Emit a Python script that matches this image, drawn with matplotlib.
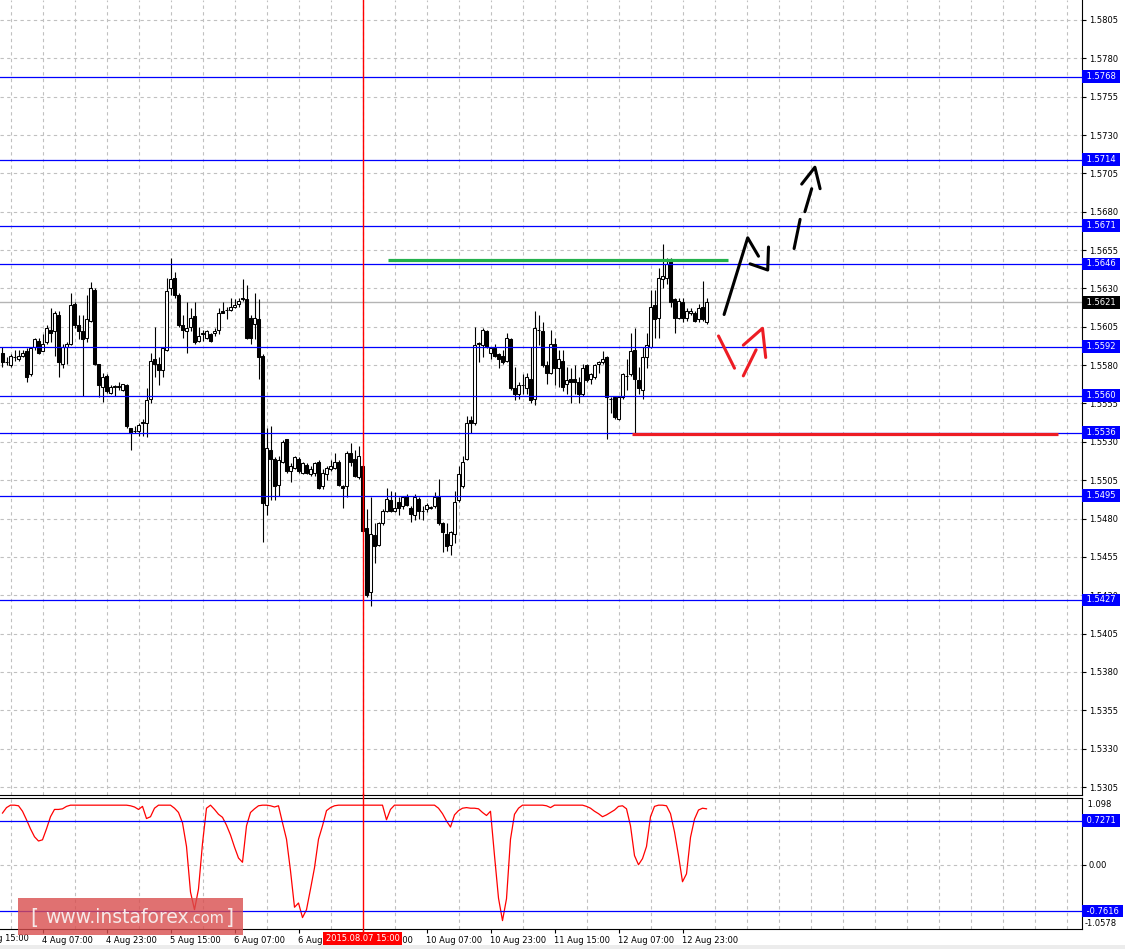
import numpy as np
import matplotlib.pyplot as plt
from matplotlib.transforms import offset_copy, blended_transform_factory
from matplotlib.patches import Rectangle

# GBPUSD H1, 3 Aug - 12 Aug 2015
opens = [1.5588, 1.5582, 1.5580, 1.5585, 1.5584, 1.5586, 1.5589, 1.5574, 1.5592, 1.5596,
         1.5589, 1.5595, 1.5603, 1.5602, 1.5613, 1.5581, 1.5592, 1.5594, 1.5620, 1.5606,
         1.5602, 1.5598, 1.5609, 1.5629, 1.5581, 1.5566, 1.5573, 1.5562, 1.5566, 1.5566,
         1.5564, 1.5567, 1.5539, 1.5537, 1.5537, 1.5542, 1.5542, 1.5558, 1.5584, 1.5581,
         1.5577, 1.5590, 1.5630, 1.5637, 1.5626, 1.5606, 1.5602, 1.5605, 1.5612, 1.5596,
         1.5600, 1.5598, 1.5600, 1.5601, 1.5603, 1.5615, 1.5616, 1.5616, 1.5618, 1.5620,
         1.5624, 1.5623, 1.5611, 1.5607, 1.5610, 1.5586, 1.5489, 1.5525, 1.5519, 1.5502,
         1.5517, 1.5532, 1.5511, 1.5513, 1.5519, 1.5510, 1.5515, 1.5509, 1.5510, 1.5517,
         1.5501, 1.5509, 1.5512, 1.5513, 1.5517, 1.5501, 1.5501, 1.5523, 1.5519, 1.5507,
         1.5514, 1.5474, 1.5432, 1.5469, 1.5463, 1.5477, 1.5485, 1.5492, 1.5485, 1.5491,
         1.5488, 1.5495, 1.5487, 1.5482, 1.5493, 1.5485, 1.5486, 1.5487, 1.5488, 1.5494,
         1.5477, 1.5470, 1.5463, 1.5470, 1.5492, 1.5501, 1.5519, 1.5544, 1.5542, 1.5594,
         1.5593, 1.5602, 1.5588, 1.5591, 1.5587, 1.5586, 1.5583, 1.5597, 1.5565, 1.5561,
         1.5567, 1.5565, 1.5571, 1.5558, 1.5603, 1.5602, 1.5580, 1.5575, 1.5594, 1.5578,
         1.5583, 1.5568, 1.5571, 1.5571, 1.5569, 1.5561, 1.5580, 1.5571, 1.5572, 1.5581,
         1.5582, 1.5585, 1.5558, 1.5559, 1.5545, 1.5559, 1.5573, 1.5574, 1.5590, 1.5570,
         1.5564, 1.5585, 1.5592, 1.5619, 1.5611, 1.5636, 1.5637, 1.5649, 1.5623, 1.5611,
         1.5621, 1.5611, 1.5614, 1.5614, 1.5610, 1.5618, 1.5608]
highs = [1.5592, 1.5585, 1.5587, 1.5590, 1.5590, 1.5590, 1.5591, 1.5592, 1.5598, 1.5598,
         1.5600, 1.5606, 1.5617, 1.5615, 1.5615, 1.5594, 1.5595, 1.5627, 1.5621, 1.5613,
         1.5613, 1.5626, 1.5634, 1.5630, 1.5581, 1.5575, 1.5574, 1.5567, 1.5567, 1.5569,
         1.5568, 1.5568, 1.5539, 1.5540, 1.5542, 1.5545, 1.5565, 1.5588, 1.5605, 1.5585,
         1.5591, 1.5637, 1.5650, 1.5641, 1.5627, 1.5613, 1.5621, 1.5617, 1.5621, 1.5605,
         1.5603, 1.5603, 1.5601, 1.5604, 1.5617, 1.5621, 1.5618, 1.5624, 1.5623, 1.5624,
         1.5636, 1.5632, 1.5613, 1.5627, 1.5623, 1.5587, 1.5539, 1.5540, 1.5520, 1.5521,
         1.5531, 1.5532, 1.5516, 1.5521, 1.5520, 1.5517, 1.5516, 1.5514, 1.5517, 1.5518,
         1.5512, 1.5514, 1.5518, 1.5523, 1.5518, 1.5502, 1.5524, 1.5529, 1.5525, 1.5527,
         1.5515, 1.5486, 1.5494, 1.5477, 1.5478, 1.5486, 1.5500, 1.5498, 1.5497, 1.5494,
         1.5495, 1.5496, 1.5488, 1.5496, 1.5494, 1.5488, 1.5490, 1.5488, 1.5497, 1.5506,
         1.5478, 1.5477, 1.5472, 1.5498, 1.5514, 1.5521, 1.5547, 1.5547, 1.5605, 1.5595,
         1.5604, 1.5603, 1.5592, 1.5594, 1.5588, 1.5590, 1.5601, 1.5598, 1.5579, 1.5569,
         1.5574, 1.5575, 1.5592, 1.5615, 1.5613, 1.5608, 1.5583, 1.5603, 1.5598, 1.5590,
         1.5590, 1.5579, 1.5578, 1.5580, 1.5572, 1.5581, 1.5581, 1.5575, 1.5581, 1.5583,
         1.5589, 1.5586, 1.5559, 1.5560, 1.5560, 1.5575, 1.5584, 1.5601, 1.5604, 1.5579,
         1.5592, 1.5601, 1.5629, 1.5629, 1.5643, 1.5659, 1.5650, 1.5650, 1.5624, 1.5624,
         1.5624, 1.5617, 1.5617, 1.5615, 1.5620, 1.5635, 1.5624]
lows = [1.5579, 1.5580, 1.5579, 1.5583, 1.5583, 1.5585, 1.5569, 1.5573, 1.5590, 1.5587,
        1.5589, 1.5594, 1.5595, 1.5586, 1.5572, 1.5578, 1.5581, 1.5593, 1.5604, 1.5597,
        1.5560, 1.5595, 1.5608, 1.5580, 1.5559, 1.5556, 1.5562, 1.5561, 1.5560, 1.5564,
        1.5563, 1.5539, 1.5525, 1.5536, 1.5534, 1.5534, 1.5533, 1.5555, 1.5572, 1.5567,
        1.5572, 1.5589, 1.5626, 1.5624, 1.5605, 1.5598, 1.5588, 1.5602, 1.5594, 1.5595,
        1.5596, 1.5597, 1.5595, 1.5599, 1.5600, 1.5614, 1.5610, 1.5615, 1.5617, 1.5618,
        1.5622, 1.5597, 1.5594, 1.5597, 1.5571, 1.5465, 1.5482, 1.5492, 1.5492, 1.5495,
        1.5516, 1.5510, 1.5504, 1.5512, 1.5510, 1.5509, 1.5509, 1.5508, 1.5508, 1.5499,
        1.5499, 1.5505, 1.5511, 1.5512, 1.5501, 1.5487, 1.5494, 1.5514, 1.5507, 1.5506,
        1.5471, 1.5429, 1.5423, 1.5451, 1.5462, 1.5476, 1.5484, 1.5484, 1.5484, 1.5482,
        1.5486, 1.5488, 1.5478, 1.5479, 1.5480, 1.5479, 1.5484, 1.5486, 1.5487, 1.5476,
        1.5458, 1.5459, 1.5456, 1.5464, 1.5491, 1.5500, 1.5518, 1.5536, 1.5541, 1.5582,
        1.5585, 1.5591, 1.5584, 1.5585, 1.5578, 1.5581, 1.5582, 1.5564, 1.5557, 1.5558,
        1.5561, 1.5561, 1.5555, 1.5554, 1.5593, 1.5579, 1.5568, 1.5574, 1.5567, 1.5566,
        1.5563, 1.5561, 1.5555, 1.5561, 1.5555, 1.5560, 1.5569, 1.5568, 1.5571, 1.5575,
        1.5581, 1.5532, 1.5549, 1.5545, 1.5544, 1.5558, 1.5564, 1.5573, 1.5536, 1.5561,
        1.5558, 1.5578, 1.5591, 1.5598, 1.5598, 1.5630, 1.5633, 1.5618, 1.5601, 1.5610,
        1.5608, 1.5609, 1.5613, 1.5608, 1.5608, 1.5609, 1.5607]
closes = [1.5582, 1.5582, 1.5586, 1.5585, 1.5586, 1.5588, 1.5572, 1.5591, 1.5597, 1.5588,
          1.5594, 1.5604, 1.5601, 1.5614, 1.5582, 1.5592, 1.5594, 1.5619, 1.5606, 1.5602,
          1.5597, 1.5610, 1.5630, 1.5581, 1.5567, 1.5572, 1.5563, 1.5566, 1.5566, 1.5566,
          1.5568, 1.5540, 1.5536, 1.5537, 1.5541, 1.5543, 1.5557, 1.5583, 1.5581, 1.5577,
          1.5591, 1.5628, 1.5636, 1.5626, 1.5606, 1.5603, 1.5604, 1.5611, 1.5595, 1.5599,
          1.5601, 1.5602, 1.5596, 1.5602, 1.5614, 1.5614, 1.5616, 1.5618, 1.5619, 1.5622,
          1.5623, 1.5598, 1.5598, 1.5611, 1.5585, 1.5490, 1.5526, 1.5519, 1.5501, 1.5518,
          1.5530, 1.5511, 1.5514, 1.5520, 1.5511, 1.5516, 1.5510, 1.5512, 1.5516, 1.5500,
          1.5510, 1.5513, 1.5514, 1.5517, 1.5502, 1.5500, 1.5523, 1.5517, 1.5508, 1.5521,
          1.5472, 1.5430, 1.5470, 1.5462, 1.5477, 1.5485, 1.5493, 1.5485, 1.5487, 1.5487,
          1.5494, 1.5489, 1.5483, 1.5494, 1.5485, 1.5485, 1.5489, 1.5487, 1.5494, 1.5477,
          1.5471, 1.5462, 1.5471, 1.5491, 1.5509, 1.5517, 1.5542, 1.5542, 1.5593, 1.5594,
          1.5603, 1.5592, 1.5591, 1.5586, 1.5584, 1.5582, 1.5598, 1.5565, 1.5561, 1.5567,
          1.5567, 1.5572, 1.5557, 1.5604, 1.5603, 1.5580, 1.5575, 1.5594, 1.5578, 1.5584,
          1.5566, 1.5570, 1.5569, 1.5569, 1.5561, 1.5578, 1.5570, 1.5574, 1.5580, 1.5582,
          1.5584, 1.5559, 1.5558, 1.5546, 1.5559, 1.5574, 1.5573, 1.5589, 1.5571, 1.5565,
          1.5585, 1.5593, 1.5618, 1.5610, 1.5637, 1.5638, 1.5646, 1.5621, 1.5611, 1.5622,
          1.5611, 1.5615, 1.5615, 1.5609, 1.5617, 1.5610, 1.5621]

# oscillator in the lower window
osc = [0.85, 0.94, 0.98, 0.98, 0.97, 0.88, 0.74, 0.59, 0.46, 0.39,
       0.41, 0.59, 0.79, 0.91, 0.91, 0.92, 0.96, 0.98, 0.98, 0.98,
       0.98, 0.98, 0.98, 0.98, 0.98, 0.98, 0.98, 0.98, 0.98, 0.98,
       0.98, 0.98, 0.97, 0.95, 0.91, 0.96, 0.76, 0.79, 0.93, 0.98,
       0.98, 0.98, 0.98, 0.93, 0.86, 0.69, 0.30, -0.45, -0.74, -0.40,
       0.35, 0.93, 0.98, 0.91, 0.83, 0.78, 0.65, 0.49, 0.29, 0.11,
       0.04, 0.64, 0.86, 0.92, 0.97, 0.98, 0.98, 0.97, 0.95, 0.97,
       0.69, 0.42, -0.10, -0.70, -0.63, -0.87, -0.74, -0.40, -0.05, 0.42,
       0.64, 0.89, 0.94, 0.97, 0.98, 0.98, 0.98, 0.98, 0.98, 0.98,
       0.98, 0.98, 0.98, 0.98, 0.98, 0.98, 0.74, 0.91, 0.98, 0.98,
       0.98, 0.98, 0.98, 0.98, 0.98, 0.98, 0.98, 0.98, 0.98, 0.93,
       0.84, 0.72, 0.62, 0.82, 0.89, 0.93, 0.94, 0.93, 0.93, 0.92,
       0.86, 0.81, 0.88, 0.15, -0.55, -0.92, -0.56, 0.42, 0.83, 0.93,
       0.98, 0.98, 0.98, 0.98, 0.98, 0.98, 0.97, 0.94, 0.98, 0.98,
       0.98, 0.98, 0.98, 0.98, 0.98, 0.98, 0.96, 0.93, 0.88, 0.84,
       0.79, 0.82, 0.86, 0.90, 0.96, 0.97, 0.92, 0.64, 0.15, 0.00,
       0.10, 0.30, 0.79, 0.96, 0.98, 0.98, 0.97, 0.84, 0.54, 0.15,
       -0.28, -0.15, 0.45, 0.75, 0.90, 0.93, 0.92]

levels = [1.5768, 1.5714, 1.5671, 1.5646, 1.5592, 1.5560, 1.5536, 1.5495, 1.5427]
bid = 1.5621
osc_levels = [0.7271, -0.7616]
osc_max, osc_min = 1.098, -1.0578

# trend lines drawn on the chart: (bar from, bar to, price)
green_seg = (96.4, 181.4, 1.56486)
red_seg = (157.4, 263.9, 1.5535)
# hand drawn strokes, (bar, price) points
black_strokes = [[(180.4, 1.5613), (186.3, 1.5663), (189.0, 1.5651)],
                 [(186.9, 1.5646), (191.3, 1.5642), (191.5, 1.5657)],
                 [(197.9, 1.5656), (199.4, 1.5675)],
                 [(200.6, 1.5680), (202.3, 1.5695)],
                 [(199.8, 1.5698), (203.1, 1.5709), (204.4, 1.5695)]]
red_strokes = [[(179.0, 1.5599), (183.0, 1.5578)],
               [(185.2, 1.5573), (188.4, 1.5590)],
               [(185.2, 1.5593), (190.0, 1.5604), (190.8, 1.5585)]]

cursor_bar = 90
cursor_text = "2015.08.07 15:00"
time_ticks = [-6, 10, 26, 42, 58, 74, 90, 106, 122, 138, 154, 170]
time_labels = ["3 Aug 15:00", "4 Aug 07:00", "4 Aug 23:00", "5 Aug 15:00", "6 Aug 07:00",
               "6 Aug 23:00", "7 Aug 15:00", "10 Aug 07:00", "10 Aug 23:00", "11 Aug 15:00",
               "12 Aug 07:00", "12 Aug 23:00"]

W, H = 1125, 949
fig = plt.figure(figsize=(W / 100, H / 100), dpi=100)
ax = fig.add_axes([0, 154 / H, 1082 / W, 795 / H])
ax2 = fig.add_axes([0, 20 / H, 1082 / W, 131 / H])
xlim = (-0.625, 269.875)
fs = 6
grid_c = '#c0c0c0'

# ---- candles
o, hi, lo, c = map(np.array, (opens, highs, lows, closes))
x = np.arange(len(o))
up = c >= o
body = np.maximum(np.abs(c - o), 0.00002)
bot = np.minimum(o, c)
ax.vlines(x, lo, hi, color='black', lw=0.8, zorder=3)
ax.bar(x[up], body[up], bottom=bot[up], width=0.6, facecolor='white',
       edgecolor='black', lw=0.75, zorder=4)
ax.bar(x[~up], body[~up], bottom=bot[~up], width=0.6, facecolor='black',
       edgecolor='black', lw=0.75, zorder=4)

ax.set_xlim(*xlim)
ax.set_ylim(1.52998, 1.58180)
yt = np.round(np.arange(1.5305, 1.5806, 0.0025), 4)
ax.set_yticks(yt)
ax.set_yticklabels(['%.4f' % v for v in yt])
ax.yaxis.tick_right()
ax.tick_params(axis='y', length=3, width=0.8, pad=2, labelsize=fs)
ax.set_xticks([])
ax.set_xticks(np.arange(2, 270, 8), minor=True)
ax.tick_params(axis='x', which='both', length=0, labelbottom=False)
ax.grid(True, axis='y', color=grid_c, ls=(0, (3, 3)), lw=0.8, zorder=0)
ax.grid(True, axis='x', which='minor', color=grid_c, ls=(0, (3, 3)), lw=0.8, zorder=0)
for s in ('left', 'top'):
    ax.spines[s].set_visible(False)

for lv in levels:
    ax.axhline(lv, color='#0000ff', lw=0.9, zorder=5)
ax.axhline(bid, color='#b4b4b4', lw=1.0, zorder=2)
ax.hlines(green_seg[2], green_seg[0], green_seg[1], color='#22b14c', lw=2.3, zorder=6)
ax.hlines(red_seg[2], red_seg[0], red_seg[1], color='#ed1c24', lw=2.3, zorder=6)
for st in black_strokes:
    sx, sy = zip(*st)
    ax.plot(sx, sy, color='black', lw=2.2, solid_capstyle='round', zorder=7)
for st in red_strokes:
    sx, sy = zip(*st)
    ax.plot(sx, sy, color='#ed1c24', lw=2.2, solid_capstyle='round', zorder=7)
ax.axvline(cursor_bar, color='#ff0000', lw=1, zorder=6)

def tag(axis, y, txt, fc):
    tr = offset_copy(axis.get_yaxis_transform(), fig=fig, x=2, y=0, units='dots')
    axis.text(1.0, y, ' ' + txt + ' ', transform=tr, ha='left', va='center', fontsize=fs,
              color='white', zorder=10, clip_on=False,
              bbox=dict(boxstyle='square,pad=0.22', fc=fc, ec='none'))

for lv in levels:
    tag(ax, lv, '%.4f' % lv, '#0000ff')
tag(ax, bid, '%.4f' % bid, 'black')

# ---- oscillator window
ax2.plot(np.arange(len(osc)), osc, color='#ff0000', lw=0.9, zorder=4)
for lv in osc_levels:
    ax2.axhline(lv, color='#0000ff', lw=0.9, zorder=5)
ax2.set_xlim(*xlim)
ax2.set_ylim(osc_min, osc_max)
ax2.set_yticks([0])
ax2.set_yticklabels(['0.00'])
ax2.yaxis.tick_right()
ax2.tick_params(axis='y', length=3, width=0.8, pad=2, labelsize=fs)
ax2.grid(True, axis='y', color=grid_c, ls=(0, (3, 3)), lw=0.8, zorder=0)
ax2.set_xticks(np.arange(2, 270, 8), minor=True)
ax2.grid(True, axis='x', which='minor', color=grid_c, ls=(0, (3, 3)), lw=0.8, zorder=0)
ax2.set_xticks(time_ticks[1:])
ax2.set_xticklabels(time_labels[1:])
for lab in ax2.get_xticklabels():
    lab.set_ha('left')
ax2.tick_params(axis='x', which='major', length=3, width=0.8, pad=2, labelsize=fs)
ax2.tick_params(axis='x', which='minor', length=0)
ax2.spines['left'].set_visible(False)
ax2.text(1.0, 1.0, ' %.3f' % osc_max, transform=offset_copy(ax2.transAxes, fig=fig, x=3, y=-2, units='dots'),
         ha='left', va='top', fontsize=fs, clip_on=False)
ax2.text(1.0, 0.0, '%.4f' % osc_min, transform=offset_copy(ax2.transAxes, fig=fig, x=3, y=1, units='dots'),
         ha='left', va='bottom', fontsize=fs, clip_on=False)
for lv in osc_levels:
    tag(ax2, lv, '%.4f' % lv, '#0000ff')
ax2.axvline(cursor_bar, ymin=-0.13, ymax=1.03, color='#ff0000', lw=1, zorder=6, clip_on=False)

bt = blended_transform_factory(ax2.transData, ax2.transAxes)
ax2.text(time_ticks[0], -0.035, time_labels[0], transform=bt, ha='left', va='top',
         fontsize=fs, clip_on=False)
ax2.text(cursor_bar, -0.035, cursor_text, transform=bt, ha='center', va='top', fontsize=fs,
         color='white', zorder=10, clip_on=False,
         bbox=dict(boxstyle='square,pad=0.25', fc='#ff0000', ec='none'))

# ---- watermark and bottom strip
fig.patches.append(Rectangle((0, 0), 1, 4 / H, transform=fig.transFigure,
                             fc='#ececec', ec='none', zorder=20))
fig.patches.append(Rectangle((18 / W, 14 / H), 225 / W, 37 / H, transform=fig.transFigure,
                             fc=(0.85, 0.30, 0.30), ec='none', alpha=0.8, zorder=20))
wm = '#f6e9e9'
base = 26 / H
fig.text(30 / W, base - 1 / H, '[', fontsize=15, color=wm, ha='left', va='baseline', zorder=21)
t1 = fig.text(45 / W, base, 'www.instaforex', fontsize=13.5, color=wm, ha='left',
              va='baseline', zorder=21)
fig.canvas.draw()
bb = t1.get_window_extent()
fig.text(bb.x1 / W, base, '.com', fontsize=10.5, color=wm, ha='left', va='baseline', zorder=21)
fig.text(226 / W, base - 1 / H, ']', fontsize=15, color=wm, ha='left', va='baseline', zorder=21)

fig.savefig('out.png', dpi=100)
